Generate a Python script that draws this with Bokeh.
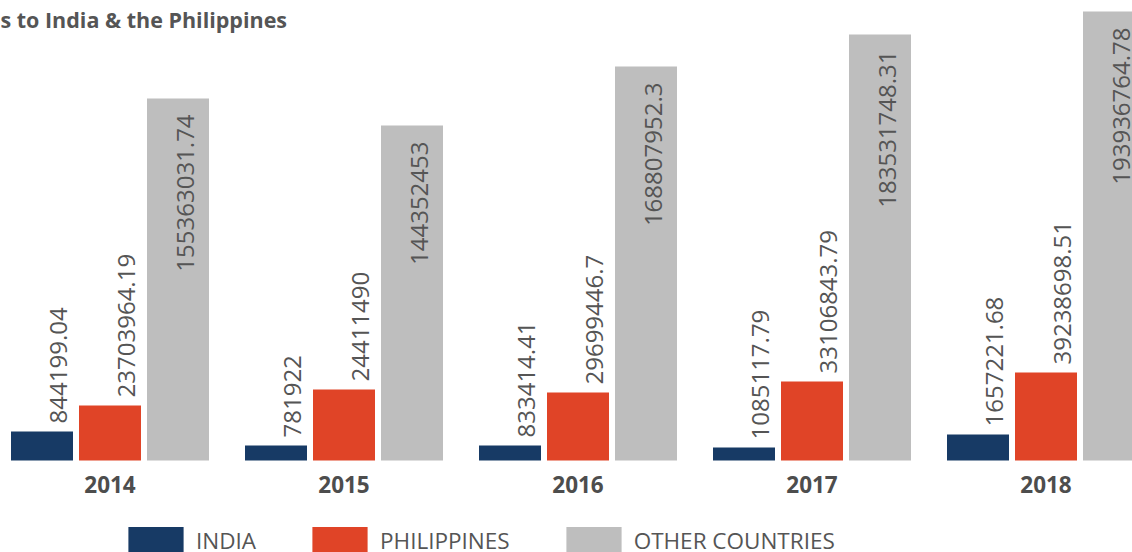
import math
from bokeh.plotting import figure
from bokeh.models import ColumnDataSource, Range1d, Legend, LegendItem, Label
from bokeh.core.properties import value
from bokeh.embed import file_html
from bokeh.resources import INLINE

# ---------------- data ----------------
years = ["2014", "2015", "2016", "2017", "2018"]
series_names = ["INDIA", "PHILIPPINES", "OTHER COUNTRIES"]

# values printed on the bars
india_values = [844199.04, 781922, 833414.41, 1085117.79, 1657221.68]
phil_values = [23703964.19, 24411490, 29699446.7, 33106843.79, 39238698.51]
other_values = [155363031.74, 144352453, 168807952.3, 183531748.31, 193936764.78]

# bar heights as drawn in the picture (millions)
india_bar_m = [12.5, 6.45, 6.45, 5.6, 11.2]
phil_bar_m = [23.7, 30.55, 29.25, 34.0, 37.85]
other_bar_m = [155.8, 144.15, 169.5, 183.3, 193.2]

colors = ["#173a65", "#e04427", "#bebebe"]
title_text = "s to India & the Philippines"

# ---------------- layout constants ----------------
W, H = 1132, 552
PX_X = 234.0        # px per group
PX_Y = 2.324        # px per million
C0 = 109.5          # px of first group centre
BASE = 460          # px from top of baseline

x0 = -C0 / PX_X
x1 = x0 + W / PX_X
y1 = BASE / PX_Y
y0 = -(H - BASE) / PX_Y

bar_w = 62 / PX_X
step = 68 / PX_X
FONT = "Open Sans"
TXT = "#555555"


def fmt(v):
    s = f"{v:.2f}".rstrip("0").rstrip(".")
    return s


p = figure(width=W, height=H, output_backend="svg", toolbar_location=None,
           x_range=Range1d(x0, x1), y_range=Range1d(y0, y1),
           x_axis_location=None, y_axis_location=None,
           min_border=0, min_border_left=0, min_border_right=0,
           min_border_top=0, min_border_bottom=0)
p.grid.visible = False
p.outline_line_color = None
p.background_fill_color = "white"
p.border_fill_color = "white"

centers = list(range(len(years)))
renderers = []
all_vals = [india_values, phil_values, other_values]
all_bars = [india_bar_m, phil_bar_m, other_bar_m]

for k in range(3):
    xs = [c + (k - 1) * step for c in centers]
    src = ColumnDataSource(dict(x=xs, top=all_bars[k]))
    r = p.vbar(x="x", top="top", bottom=0, width=bar_w, source=src,
               fill_color=colors[k], line_color=None)
    renderers.append(r)
    if k < 2:
        lsrc = ColumnDataSource(dict(
            x=[x + 16 / PX_X for x in xs],
            y=[t + 8 / PX_Y for t in all_bars[k]],
            lab=[fmt(v) for v in all_vals[k]]))
        p.text(x="x", y="y", text="lab", source=lsrc, angle=math.pi / 2,
               text_align="left", text_baseline="alphabetic",
               text_font=value(FONT), text_font_size="24px", text_color=TXT)
    else:
        lsrc = ColumnDataSource(dict(
            x=[x + 7 / PX_X for x in xs],
            y=[t - 16 / PX_Y for t in all_bars[k]],
            lab=[fmt(v) for v in all_vals[k]]))
        p.text(x="x", y="y", text="lab", source=lsrc, angle=math.pi / 2,
               text_align="right", text_baseline="alphabetic",
               text_font=value(FONT), text_font_size="24px", text_color=TXT)

ysrc = ColumnDataSource(dict(x=centers, y=[-24 / PX_Y] * len(years), t=years))
p.text(x="x", y="y", text="t", source=ysrc, text_align="center",
       text_baseline="alphabetic", text_font=value(FONT),
       text_font_size="22.5px", text_font_style="bold", text_color="#4d4d4d")

title = Label(x=0, y=H - 19, x_units="screen", y_units="screen",
              text=title_text, text_font=FONT, text_font_size="21.5px",
              text_font_style="bold", text_color=TXT,
              text_baseline="alphabetic", text_align="left")
p.add_layout(title)

legend = Legend(items=[LegendItem(label=series_names[k], renderers=[renderers[k]])
                       for k in range(3)],
                orientation="horizontal", location=(121, -5.5),
                glyph_width=69, glyph_height=35, label_standoff=6,
                spacing=49, padding=0, margin=0,
                border_line_color=None, background_fill_alpha=0,
                label_text_font=FONT, label_text_font_size="22.5px",
                label_text_color=TXT, label_height=35)
p.add_layout(legend, "center")

open("out.html", "w").write(file_html(p, INLINE))
